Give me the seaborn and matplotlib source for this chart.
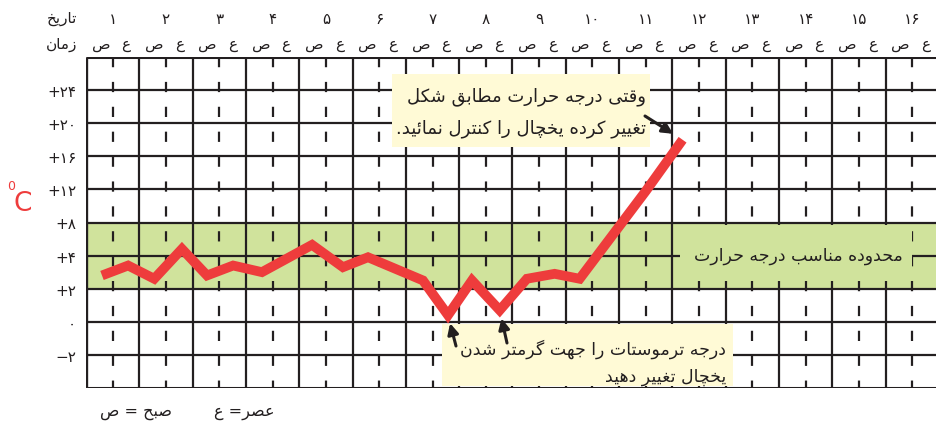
import numpy as np
import pandas as pd
import matplotlib
matplotlib.use("Agg")
import matplotlib.pyplot as plt
import matplotlib.transforms as mtransforms
from matplotlib.patches import Rectangle
import seaborn as sns

# ---------------- data ----------------
DAY_LABELS = ['۱', '۲', '۳', '۴', '۵', '۶', '۷', '۸', '۹', '۱۰', '۱۱', '۱۲', '۱۳', '۱۴', '۱۵', '۱۶']
SLOT_LABELS = ['ص', 'ع']          # morning / afternoon
Y_TICK_VALUES = [24, 20, 16, 12, 8, 4, 2, 0, -2]
Y_TICK_LABELS = ['+۲۴', '+۲۰', '+۱۶', '+۱۲', '+۸', '+۴', '+۲', '۰', '−۲']
SCALE_TEMPS = [-4, -2, 0, 2, 4, 8, 12, 16, 20, 24, 28]   # row boundaries of the log sheet
GOOD_RANGE = [2, 8]

# readings: time in days since start, temperature in degC
READING_TIME = [0.30, 0.79, 1.28, 1.80, 2.27, 2.76, 3.30, 4.24, 4.82, 5.29,
                6.32, 6.79, 7.24, 7.76, 8.27, 8.79, 9.26, 10.50, 11.19]
READING_TEMP = [2.8, 3.4, 2.6, 4.8, 2.8, 3.4, 3.0, 5.3, 3.3, 3.9,
                2.5, 0.4, 2.5, 0.7, 2.6, 2.9, 2.6, 11.8, 18.0]

TXT_DATE = 'تاریخ'
TXT_TIME = 'زمان'
NOTE_TOP = ['وقتی درجه حرارت مطابق شکل', 'تغییر کرده یخچال را کنترل نمائید.']
NOTE_BOTTOM = ['درجه ترموستات را جهت گرمتر شدن', 'یخچال تغییر دهید']
RANGE_LABEL = 'محدوده مناسب درجه حرارت'
LEGEND_MORNING = 'صبح = ص'
LEGEND_AFTERNOON = 'عصر= ع'
UNIT = 'C'

# ---------------- Persian shaping (matplotlib has no RTL shaping) ----------------
_F = {
    'ا': (0xFE8D, 0xFE8E, None, None), 'د': (0xFEA9, 0xFEAA, None, None),
    'ر': (0xFEAD, 0xFEAE, None, None), 'ز': (0xFEAF, 0xFEB0, None, None),
    'و': (0xFEED, 0xFEEE, None, None),
    'ب': (0xFE8F, 0xFE90, 0xFE91, 0xFE92), 'ت': (0xFE95, 0xFE96, 0xFE97, 0xFE98),
    'ج': (0xFE9D, 0xFE9E, 0xFE9F, 0xFEA0), 'ح': (0xFEA1, 0xFEA2, 0xFEA3, 0xFEA4),
    'خ': (0xFEA5, 0xFEA6, 0xFEA7, 0xFEA8), 'س': (0xFEB1, 0xFEB2, 0xFEB3, 0xFEB4),
    'ش': (0xFEB5, 0xFEB6, 0xFEB7, 0xFEB8), 'ص': (0xFEB9, 0xFEBA, 0xFEBB, 0xFEBC),
    'ط': (0xFEC1, 0xFEC2, 0xFEC3, 0xFEC4), 'ع': (0xFEC9, 0xFECA, 0xFECB, 0xFECC),
    'غ': (0xFECD, 0xFECE, 0xFECF, 0xFED0), 'ق': (0xFED5, 0xFED6, 0xFED7, 0xFED8),
    'ل': (0xFEDD, 0xFEDE, 0xFEDF, 0xFEE0), 'م': (0xFEE1, 0xFEE2, 0xFEE3, 0xFEE4),
    'ن': (0xFEE5, 0xFEE6, 0xFEE7, 0xFEE8), 'ه': (0xFEE9, 0xFEEA, 0xFEEB, 0xFEEC),
    'ئ': (0xFE89, 0xFE8A, 0xFE8B, 0xFE8C), 'ی': (0xFBFC, 0xFBFD, 0xFBFE, 0xFBFF),
    'ک': (0xFB8E, 0xFB8F, 0xFB90, 0xFB91), 'گ': (0xFB92, 0xFB93, 0xFB94, 0xFB95),
    'چ': (0xFB7A, 0xFB7B, 0xFB7C, 0xFB7D), 'پ': (0xFB56, 0xFB57, 0xFB58, 0xFB59),
}


def fa(s):
    out = []
    for i, c in enumerate(s):
        if c not in _F:
            out.append(c)
            continue
        p = s[i - 1] if i > 0 else ''
        n = s[i + 1] if i + 1 < len(s) else ''
        jp = p in _F and _F[p][2] is not None
        jn = n in _F and _F[c][2] is not None
        iso, fin, ini, med = _F[c]
        if jp and jn:
            cp = med
        elif jp:
            cp = fin
        elif jn:
            cp = ini
        else:
            cp = iso
        out.append(chr(cp))
    return ''.join(reversed(out))


# ---------------- styling ----------------
sns.set_theme(style="white")
plt.rcParams['font.family'] = ['DejaVu Sans']

INK = '#231f20'
RED = '#ee3c3c'
GREEN = '#d0e39c'
CREAM = '#fffad6'

W, H = 937, 427
AX_L, AX_T, AX_W, AX_H = 86, 58, 853, 331

fig = plt.figure(figsize=(W / 100, H / 100), dpi=100)
ax = fig.add_axes([AX_L / W, (H - AX_T - AX_H) / H, AX_W / W, AX_H / H])


def afr(x, y):
    return ((x - AX_L) / AX_W, (AX_T + AX_H - y) / AX_H)


def ffr(x, y):
    return (x / W, 1 - y / H)


rows = np.arange(len(SCALE_TEMPS), dtype=float)


def fwd(t):
    return np.interp(t, SCALE_TEMPS, rows)


def inv(r):
    return np.interp(r, rows, SCALE_TEMPS)


ax.set_yscale('function', functions=(fwd, inv))
n_days = len(DAY_LABELS)
ax.set_xlim(0, n_days)
ax.set_ylim(SCALE_TEMPS[0], SCALE_TEMPS[-1])
for s in ax.spines.values():
    s.set_visible(False)

# acceptable range band
ax.axhspan(GOOD_RANGE[0], GOOD_RANGE[1], color=GREEN, zorder=0, lw=0)

# grid of the log sheet
ax.hlines(Y_TICK_VALUES, 0, n_days, color=INK, lw=1.6, zorder=1)
ax.hlines([SCALE_TEMPS[0], SCALE_TEMPS[-1]], 0, n_days, color=INK, lw=2.2, zorder=1)
ax.vlines(np.arange(1, n_days), SCALE_TEMPS[0], SCALE_TEMPS[-1], color=INK, lw=1.6, zorder=1)
ax.vlines([0], SCALE_TEMPS[0], SCALE_TEMPS[-1], color=INK, lw=2.4, zorder=1)
for d in range(n_days):
    ax.plot([d + 0.5, d + 0.5], [SCALE_TEMPS[-1], SCALE_TEMPS[0]], color=INK, lw=1.6,
            dashes=(4.6, 6.6), dash_capstyle='butt', zorder=1)

# note boxes
def box(x0, y0, x1, y1, color):
    (fx0, fy1), (fx1, fy0) = afr(x0, y0), afr(x1, y1)
    ax.add_patch(Rectangle((fx0, fy0), fx1 - fx0, fy1 - fy0, transform=ax.transAxes,
                           facecolor=color, edgecolor='none', zorder=2, clip_on=False))

box(392, 75, 650, 148, CREAM)
box(442, 325, 733, 387, CREAM)
box(680, 226, 912, 282, GREEN)

txt_kw = dict(transform=ax.transAxes, color=INK, zorder=3, va='center')
ax.text(*afr(646, 97), fa(NOTE_TOP[0]), ha='right', fontsize=13, **txt_kw)
ax.text(*afr(646, 129), fa(NOTE_TOP[1]), ha='right', fontsize=13, **txt_kw)
ax.text(*afr(726, 349), fa(NOTE_BOTTOM[0]), ha='right', fontsize=12.5, **txt_kw)
ax.text(*afr(726, 377), fa(NOTE_BOTTOM[1]), ha='right', fontsize=12.5, **txt_kw)
ax.text(*afr(798, 256), fa(RANGE_LABEL), ha='center', fontsize=12.5, **txt_kw)

# temperature readings
df = pd.DataFrame({'time': READING_TIME, 'temp': READING_TEMP})
sns.lineplot(data=df, x='time', y='temp', ax=ax, color=RED, lw=7, sort=False,
             estimator=None, zorder=4, solid_joinstyle='miter', solid_capstyle='butt')
ax.set_xlabel('')
ax.set_ylabel('')

# arrows
arrow = dict(arrowstyle='-|>', color=INK, lw=2.2, mutation_scale=16, shrinkA=0)
ax.annotate('', xy=(READING_TIME[-1], READING_TEMP[-1]), xytext=afr(645, 117),
            textcoords='axes fraction', arrowprops=dict(shrinkB=8, **arrow), zorder=5)
ax.annotate('', xy=(READING_TIME[11], READING_TEMP[11]), xytext=afr(456, 347),
            textcoords='axes fraction', arrowprops=dict(shrinkB=6, **arrow), zorder=5)
ax.annotate('', xy=(READING_TIME[13], READING_TEMP[13]), xytext=afr(507, 344),
            textcoords='axes fraction', arrowprops=dict(shrinkB=6, **arrow), zorder=5)

# y ticks
ax.set_yticks(Y_TICK_VALUES, labels=Y_TICK_LABELS)
ax.set_xticks([])
ax.tick_params(axis='y', length=0, pad=7, labelsize=11, labelcolor=INK)
ax.minorticks_off()

# header rows
top = mtransforms.blended_transform_factory(ax.transData, ax.transAxes)
y_day = (AX_T + AX_H - 19) / AX_H
y_slot = (AX_T + AX_H - 44) / AX_H
for d, lab in enumerate(DAY_LABELS):
    ax.text(d + 0.5, y_day, lab, transform=top, ha='center', va='center', fontsize=11, color=INK)
    for k, s in enumerate(SLOT_LABELS):
        ax.text(d + 0.28 + 0.47 * k, y_slot, fa(s), transform=top, ha='center', va='center',
                fontsize=11, color=INK)

fig.text(*ffr(62, 19), fa(TXT_DATE), ha='center', va='center', fontsize=11, color=INK)
fig.text(*ffr(62, 44), fa(TXT_TIME), ha='center', va='center', fontsize=11, color=INK)

# unit label
fig.text(*ffr(23, 204), UNIT, ha='center', va='center', fontsize=19, color=RED)
fig.text(*ffr(11, 187), '0', ha='center', va='center', fontsize=9, color=RED)

# legend of abbreviations
fig.text(*ffr(136, 413), fa(LEGEND_MORNING), ha='center', va='center', fontsize=11.5, color=INK)
fig.text(*ffr(244, 413), fa(LEGEND_AFTERNOON), ha='center', va='center', fontsize=11.5, color=INK)

fig.savefig('out.png', dpi=100, facecolor='white')
